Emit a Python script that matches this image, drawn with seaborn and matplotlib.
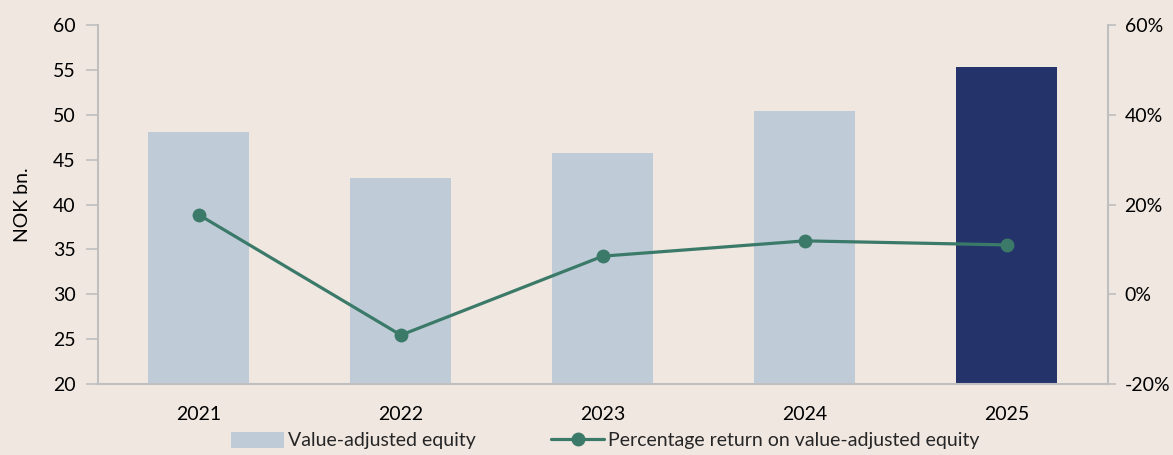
import matplotlib
matplotlib.use("Agg")
import matplotlib.pyplot as plt
import numpy as np
import seaborn as sns
from matplotlib.lines import Line2D
from matplotlib.patches import Patch
from matplotlib.ticker import FuncFormatter

years = ["2021", "2022", "2023", "2024", "2025"]
equity = [48.1, 43.0, 45.7, 50.4, 55.3]
returns_pct = [17.7, -9.1, 8.5, 11.9, 11.0]

BG = "#F0E7E1"
BAR = "#BFCCD8"
BAR_LAST = "#24346B"
LINE = "#3B7A69"
SPINE = "#BFBFBF"

sns.set_theme(style="white")
plt.rcParams["font.family"] = ["Lato", "DejaVu Sans"]

fig = plt.figure(figsize=(11.73, 4.55), dpi=100, facecolor=BG)
ax = fig.add_axes([0.0835, 0.156, 0.861, 0.789])
ax.set_facecolor(BG)

colors = [BAR] * (len(years) - 1) + [BAR_LAST]
sns.barplot(x=years, y=equity, hue=years, palette=colors, legend=False,
            width=0.5, saturation=1, linewidth=0, edgecolor="none", ax=ax)
ax.set_ylim(20, 60)
ax.set_yticks(range(20, 61, 5))
ax.set_xlim(-0.5, len(years) - 0.5)
ax.set_ylabel("NOK bn.", fontsize=14, color="black", labelpad=16)
ax.set_xlabel("")
ax.tick_params(axis="y", left=True, length=9, width=1.2, color=SPINE,
               labelsize=14, labelcolor="black", direction="out", pad=7)
ax.tick_params(axis="x", bottom=False, labelsize=14, labelcolor="black", pad=10)
for side in ["top", "right"]:
    ax.spines[side].set_visible(False)
for side in ["left", "bottom"]:
    ax.spines[side].set_color(SPINE)
    ax.spines[side].set_linewidth(1.5)

ax2 = ax.twinx()
sns.lineplot(x=np.arange(len(years)), y=returns_pct, ax=ax2, color=LINE,
             linewidth=2.3, marker="o", markersize=10, markeredgewidth=0)
ax2.set_ylim(-20, 60)
ax2.set_yticks(range(-20, 61, 20))
ax2.yaxis.set_major_formatter(FuncFormatter(lambda v, _: f"{v:.0f}%"))
ax2.set_ylabel("")
ax2.tick_params(axis="y", right=True, length=6, width=1.2, color=SPINE,
                labelsize=14, labelcolor="black", direction="out", pad=6)
for side in ["top", "left", "bottom"]:
    ax2.spines[side].set_visible(False)
ax2.spines["right"].set_color(SPINE)
ax2.spines["right"].set_linewidth(1.5)

handles = [
    Patch(facecolor=BAR, edgecolor="none", label="Value-adjusted equity"),
    Line2D([0], [0], color=LINE, linewidth=2.3, marker="o", markersize=9,
           label="Percentage return on value-adjusted equity"),
]
fig.legend(handles=handles, loc="lower center", bbox_to_anchor=(0.516, -0.026),
           ncol=2, frameon=False, fontsize=14, handlelength=2.7,
           handleheight=0.9, columnspacing=3.9, handletextpad=0.2)

fig.savefig("out.png", dpi=100, facecolor=BG)
